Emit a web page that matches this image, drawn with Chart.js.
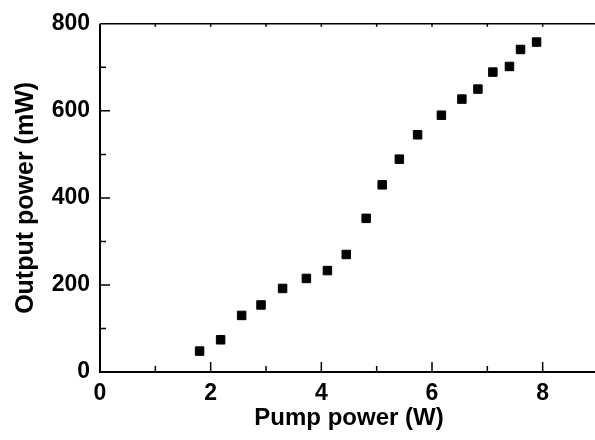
<!DOCTYPE html>
<html>
<head>
<meta charset="utf-8">
<script src="https://cdn.jsdelivr.net/npm/chart.js@4/dist/chart.umd.min.js"></script>
<style>
  html, body { margin: 0; padding: 0; overflow: hidden; background: #fff; }
  #wrap { width: 605px; height: 440px; }
</style>
</head>
<body>
<div id="wrap"><canvas id="c" width="605" height="440"></canvas></div>
<script>
// Data
const pumpPower = [1.80, 2.18, 2.56, 2.91, 3.30, 3.73, 4.11, 4.45, 4.81, 5.10, 5.41, 5.74, 6.17, 6.54, 6.83, 7.10, 7.40, 7.60, 7.89];
const outputPower = [48, 74, 130, 154, 192, 215, 233, 270, 353, 430, 489, 545, 590, 627, 650, 689, 702, 741, 758];
const xTickLabels = [0, 2, 4, 6, 8];
const yTickLabels = [0, 200, 400, 600, 800];
const xMinorStep = 1;
const yMinorStep = 100;
const xTitle = 'Pump power (W)';
const yTitle = 'Output power (mW)';

const FONT = "'Liberation Sans', Arial, Helvetica, sans-serif";

const axesPlugin = {
  id: 'inwardAxes',
  afterDraw(chart) {
    const ctx = chart.ctx;
    const a = chart.chartArea;
    const xs = chart.scales.x, ys = chart.scales.y;
    ctx.save();
    ctx.strokeStyle = '#000';
    ctx.lineCap = 'butt';
    ctx.lineWidth = 2;
    ctx.beginPath();
    ctx.moveTo(a.left, a.top); ctx.lineTo(a.left, a.bottom + 1);
    ctx.moveTo(a.left - 1, a.bottom); ctx.lineTo(a.right, a.bottom);
    ctx.stroke();
    ctx.lineWidth = 1.6;
    ctx.beginPath();
    ctx.moveTo(a.left, a.top); ctx.lineTo(a.right, a.top);
    ctx.stroke();
    ctx.lineWidth = 1.5;
    ctx.beginPath();
    for (let v = xs.min; v <= xs.max + 1e-9; v += xMinorStep) {
      const px = xs.getPixelForValue(v);
      const major = xTickLabels.includes(Math.round(v));
      if (v > xs.min) {
        ctx.moveTo(px, a.bottom); ctx.lineTo(px, a.bottom - (major ? 10 : 6));
        ctx.moveTo(px, a.top); ctx.lineTo(px, a.top + 3);
      }
    }
    for (let v = ys.min; v <= ys.max + 1e-9; v += yMinorStep) {
      const py = ys.getPixelForValue(v);
      const major = yTickLabels.includes(Math.round(v));
      if (v > ys.min && v < ys.max) {
        ctx.moveTo(a.left, py); ctx.lineTo(a.left + (major ? 10 : 6), py);
      }
    }
    ctx.stroke();
    ctx.restore();
  }
};

new Chart(document.getElementById('c'), {
  type: 'scatter',
  data: {
    datasets: [{
      data: pumpPower.map((x, i) => ({ x: x, y: outputPower[i] })),
      pointStyle: 'rect',
      pointRadius: 6,
      pointBorderWidth: 1,
      backgroundColor: '#000',
      borderColor: '#000'
    }]
  },
  options: {
    responsive: false,
    animation: false,
    layout: { padding: { top: 19, right: 0, left: 0, bottom: 0 } },
    plugins: { legend: { display: false }, tooltip: { enabled: false } },
    scales: {
      x: {
        type: 'linear', min: 0, max: 9,
        afterBuildTicks: (s) => { s.ticks = xTickLabels.map(v => ({ value: v })); },
        afterFit: (s) => { s.height = 68; },
        grid: { display: false, drawTicks: false },
        border: { display: false },
        ticks: { color: '#000', padding: 8, font: { family: FONT, size: 23, weight: 'bold' } },
        title: { display: true, text: xTitle, color: '#000', padding: { top: 0, bottom: 7 },
                 font: { family: FONT, size: 24, weight: 'bold' } }
      },
      y: {
        type: 'linear', min: 0, max: 800,
        afterBuildTicks: (s) => { s.ticks = yTickLabels.map(v => ({ value: v })); },
        afterFit: (s) => { s.width = 100; },
        grid: { display: false, drawTicks: false },
        border: { display: false },
        ticks: { color: '#000', padding: 10, font: { family: FONT, size: 23, weight: 'bold' } },
        title: { display: true, text: yTitle, color: '#000', padding: { top: 11, bottom: 0 },
                 font: { family: FONT, size: 25, weight: 'bold' } }
      }
    }
  },
  plugins: [axesPlugin]
});
</script>
</body>
</html>
